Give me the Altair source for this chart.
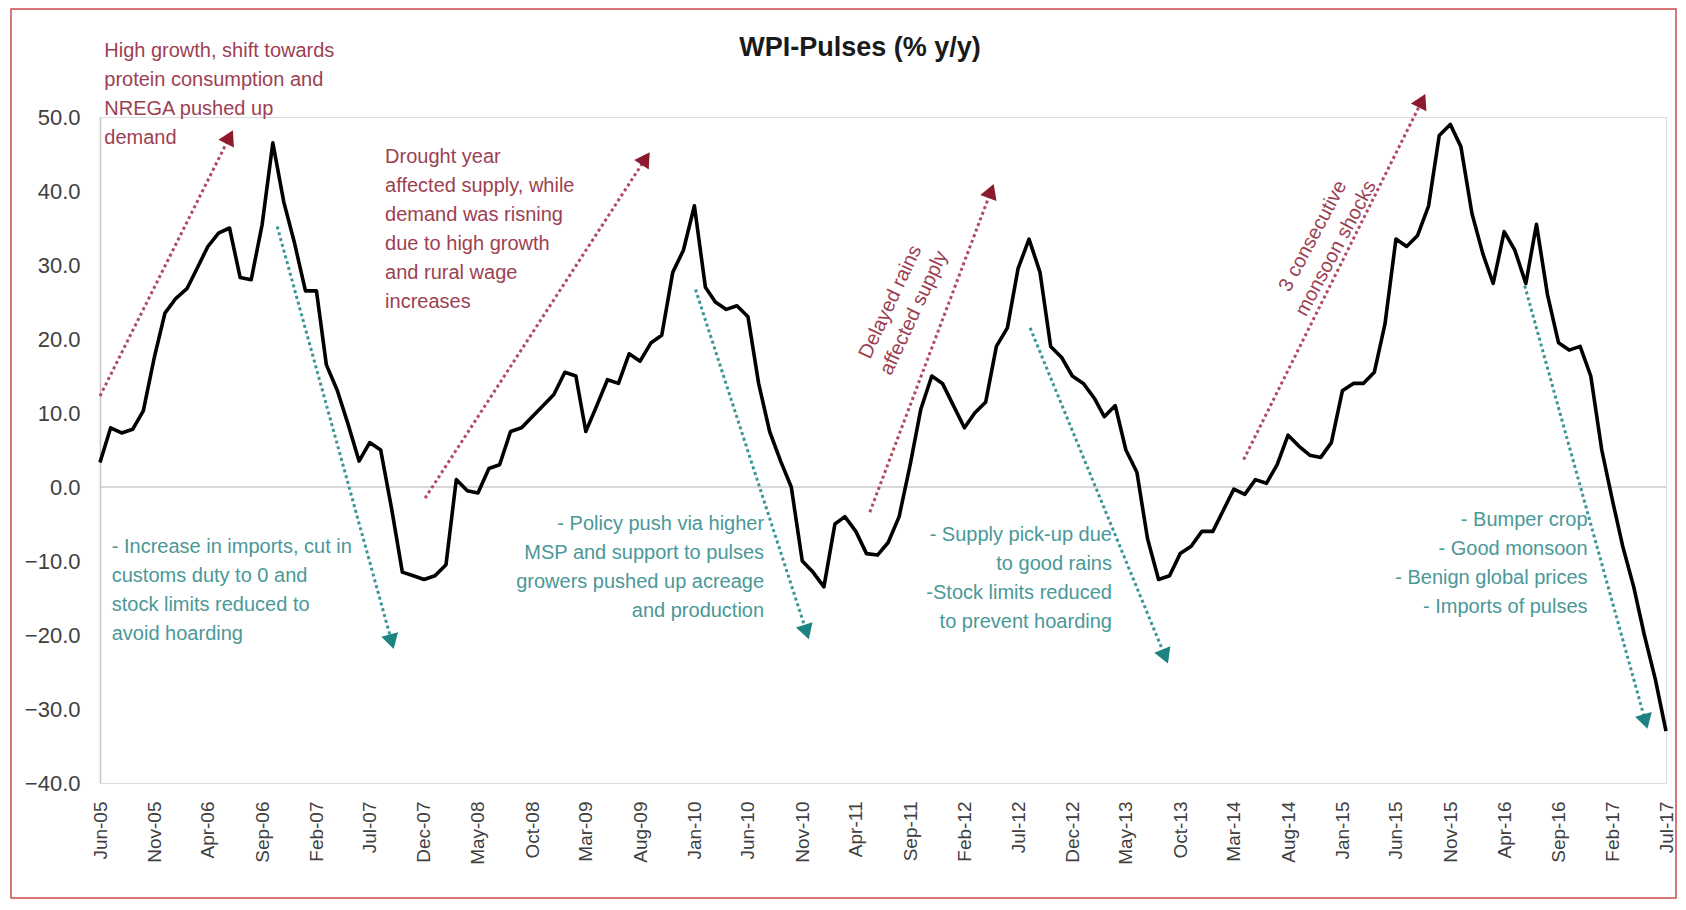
import altair as alt
import pandas as pd
import math

# ---------------- data ----------------
months = pd.date_range("2005-06-01", "2017-07-01", freq="MS")
wpi_pulses = [
    3.3, 8.0, 7.3, 7.8, 10.3, 17.5, 23.5, 25.5, 26.8, 29.5, 32.5, 34.3,      # Jun-05 .. May-06
    35.0, 28.3, 28.0, 35.5, 46.5, 38.5, 33.0, 26.5, 26.5, 16.5, 13.0, 8.5,   # Jun-06 .. May-07
    3.5, 6.0, 5.0, -3.0, -11.5, -12.0, -12.5, -12.0, -10.5, 1.0, -0.5, -0.8, # Jun-07 .. May-08
    2.5, 3.0, 7.5, 8.0, 9.5, 11.0, 12.5, 15.5, 15.0, 7.5, 11.0, 14.5,        # Jun-08 .. May-09
    14.0, 18.0, 17.0, 19.5, 20.5, 29.0, 32.0, 38.0, 27.0, 25.0, 24.0, 24.5,  # Jun-09 .. May-10
    23.0, 14.0, 7.5, 3.5, 0.0, -10.0, -11.5, -13.5, -5.0, -4.0, -6.0, -9.0,  # Jun-10 .. May-11
    -9.2, -7.5, -4.0, 3.0, 10.5, 15.0, 14.0, 11.0, 8.0, 10.0, 11.5, 19.0,    # Jun-11 .. May-12
    21.5, 29.5, 33.5, 29.0, 19.0, 17.5, 15.0, 14.0, 12.0, 9.5, 11.0, 5.0,    # Jun-12 .. May-13
    2.0, -7.0, -12.5, -12.0, -9.0, -8.0, -6.0, -6.0, -3.0, -0.3, -1.0, 1.0,  # Jun-13 .. May-14
    0.5, 3.0, 7.0, 5.5, 4.3, 4.0, 6.0, 13.0, 14.0, 14.0, 15.5, 22.0,         # Jun-14 .. May-15
    33.5, 32.5, 34.0, 38.0, 47.5, 49.0, 46.0, 37.0, 31.5, 27.5, 34.5, 32.0,  # Jun-15 .. May-16
    27.5, 35.5, 26.0, 19.5, 18.5, 19.0, 15.0, 5.0, -2.0, -8.0, -13.5, -20.0, # Jun-16 .. May-17
    -26.0, -33.0,                                                            # Jun-17 .. Jul-17
]
tick_months = months[::5]
y_ticks = [-40, -30, -20, -10, 0, 10, 20, 30, 40, 50]

# annotation arrows: start/end in (month index, value)
arrow_kind = ["up", "up", "up", "up", "down", "down", "down", "down"]
arrow_i0 = [0.0, 30.1, 71.3, 105.9, 16.4, 55.1, 86.1, 131.9]
arrow_v0 = [12.3, -1.5, -3.4, 3.7, 35.2, 26.7, 21.5, 27.2]
arrow_i1 = [12.0, 50.5, 82.5, 122.4, 27.0, 65.4, 98.6, 143.1]
arrow_v1 = [47.3, 44.4, 40.0, 52.2, -20.9, -19.6, -22.9, -31.7]

# annotation texts
note_text = [
    "High growth, shift towards\nprotein consumption and\nNREGA pushed up\ndemand",
    "Drought year\naffected supply, while\ndemand was risning\ndue to high growth\nand rural wage\nincreases",
    "- Increase in imports, cut in\ncustoms duty to 0 and\nstock limits reduced to\navoid hoarding",
    "- Policy push via higher\nMSP and support to pulses\ngrowers pushed up acreage\nand production",
    "- Supply pick-up due\nto good rains\n-Stock limits reduced\nto prevent hoarding",
    "- Bumper crop\n- Good monsoon\n- Benign global prices\n- Imports of pulses",
    "Delayed rains\naffected supply",
    "3 consecutive\nmonsoon shocks",
]
note_kind = ["up", "up", "down", "down", "down", "down", "up", "up"]
note_style = ["left", "left", "left", "right", "right", "right", "rot", "rot"]
note_i = [0.4, 26.4, 1.1, 61.5, 93.7, 137.7, 73.2, 112.3]
note_v = [60.3, 46.0, -6.7, -3.7, -5.2, -3.1, 25.0, 33.9]
note_angle = [0, 0, 0, 0, 0, 0, 295, 298]

# ---------------- styling ----------------
W, H = 1566, 666
FONT = "Liberation Sans Narrow, Arial Narrow, Liberation Sans, Arial, sans-serif"
RED_TXT, RED_DOT, RED_HEAD = "#9d3f52", "#b04a5e", "#8c1a2e"
TEAL_TXT, TEAL_DOT, TEAL_HEAD = "#4a9898", "#3a9696", "#1c8282"

base = pd.Timestamp("2005-06-01")


def idx_to_date(i):
    whole = int(math.floor(i))
    frac = i - whole
    d0 = base + pd.DateOffset(months=whole)
    d1 = base + pd.DateOffset(months=whole + 1)
    return (d0 + (d1 - d0) * frac).isoformat()


df = pd.DataFrame({"date": months, "value": wpi_pulses})

xscale = alt.Scale(domain=[months[0].isoformat(), months[-1].isoformat()], nice=False)
yscale = alt.Scale(domain=[-40, 50], nice=False)

px_per_month = W / (len(months) - 1)
px_per_unit = H / 90.0

arrows = pd.DataFrame({
    "x0": [idx_to_date(i) for i in arrow_i0],
    "y0": arrow_v0,
    "x1": [idx_to_date(i) for i in arrow_i1],
    "y1": arrow_v1,
    "dot": [RED_DOT if k == "up" else TEAL_DOT for k in arrow_kind],
    "head": [RED_HEAD if k == "up" else TEAL_HEAD for k in arrow_kind],
    "ang": [
        math.degrees(math.atan2((i1 - i0) * px_per_month, (v1 - v0) * px_per_unit)) % 360
        for i0, v0, i1, v1 in zip(arrow_i0, arrow_v0, arrow_i1, arrow_v1)
    ],
})

notes = pd.DataFrame({
    "x": [idx_to_date(i) for i in note_i],
    "y": note_v,
    "text": note_text,
    "color": [RED_TXT if k == "up" else TEAL_TXT for k in note_kind],
    "style": note_style,
    "angle": note_angle,
})

X = alt.X("date:T", scale=xscale, axis=alt.Axis(
    values=[m.isoformat() for m in tick_months], format="%b-%y", title=None,
    labelAngle=270, labelAlign="right", labelBaseline="middle", labelPadding=18,
    labelFontSize=19, labelFont="Liberation Sans, Arial, sans-serif", labelColor="#404040",
    labelOverlap=False, labelBound=False, domain=False, ticks=False, grid=False))
Y = alt.Y("value:Q", scale=yscale, axis=alt.Axis(
    values=y_ticks, format=".1f", title=None, labelFontSize=22, labelFont=FONT,
    labelColor="#404040", labelPadding=20, ticks=False, grid=False,
    domainColor="#c4c4c4", domainWidth=1.5))

zero = alt.Chart(pd.DataFrame({"value": [0]})).mark_rule(
    color="#cccccc", strokeWidth=1.5).encode(y=alt.Y("value:Q", scale=yscale))

line = alt.Chart(df).mark_line(color="#000000", strokeWidth=3.6, strokeJoin="round").encode(x=X, y=Y)

arrow_lines = alt.Chart(arrows).mark_rule(strokeWidth=3, strokeDash=[3, 3]).encode(
    x=alt.X("x0:T", scale=xscale), y=alt.Y("y0:Q", scale=yscale),
    x2="x1:T", y2="y1:Q", color=alt.Color("dot:N", scale=None))

arrow_heads = alt.Chart(arrows).mark_point(shape="triangle-up", filled=True, size=300, opacity=1).encode(
    x=alt.X("x1:T", scale=xscale), y=alt.Y("y1:Q", scale=yscale),
    angle=alt.Angle("ang:Q", scale=None), color=alt.Color("head:N", scale=None))

note_left = alt.Chart(notes).transform_filter(alt.datum.style == "left").mark_text(
    align="left", baseline="top", font=FONT, fontSize=20, lineHeight=29, lineBreak="\n").encode(
    x=alt.X("x:T", scale=xscale), y=alt.Y("y:Q", scale=yscale), text="text:N",
    color=alt.Color("color:N", scale=None))

note_right = alt.Chart(notes).transform_filter(alt.datum.style == "right").mark_text(
    align="right", baseline="top", font=FONT, fontSize=20, lineHeight=29, lineBreak="\n").encode(
    x=alt.X("x:T", scale=xscale), y=alt.Y("y:Q", scale=yscale), text="text:N",
    color=alt.Color("color:N", scale=None))

note_rot = alt.Chart(notes).transform_filter(alt.datum.style == "rot").mark_text(
    align="center", baseline="middle", font=FONT, fontSize=20, lineHeight=26, lineBreak="\n").encode(
    x=alt.X("x:T", scale=xscale), y=alt.Y("y:Q", scale=yscale), text="text:N",
    angle=alt.Angle("angle:Q", scale=None), color=alt.Color("color:N", scale=None))

title = alt.Chart(pd.DataFrame({"t": ["WPI-Pulses (% y/y)"]})).mark_text(
    font="Liberation Sans, Arial, sans-serif", fontSize=27, fontWeight="bold", color="#1a1a1a",
    align="center", baseline="middle").encode(text="t:N", x=alt.value(760), y=alt.value(-69))

frame = alt.Chart(pd.DataFrame({"k": [0]})).mark_rect(
    fillOpacity=0, stroke="#cf4a4a", strokeWidth=1.5).encode(
    x=alt.value(-89), x2=alt.value(W + 10), y=alt.value(-108), y2=alt.value(781))

chart = alt.layer(
    frame, zero, arrow_lines, arrow_heads, line, note_left, note_right, note_rot, title
).properties(
    width=W, height=H,
    padding={"left": 92, "top": 109, "right": 12, "bottom": 117},
    autosize=alt.AutoSizeParams(type="none"),
).configure_view(stroke=None).configure(background="white")

chart.save("out.html", embed_options={"renderer": "svg", "actions": False})
